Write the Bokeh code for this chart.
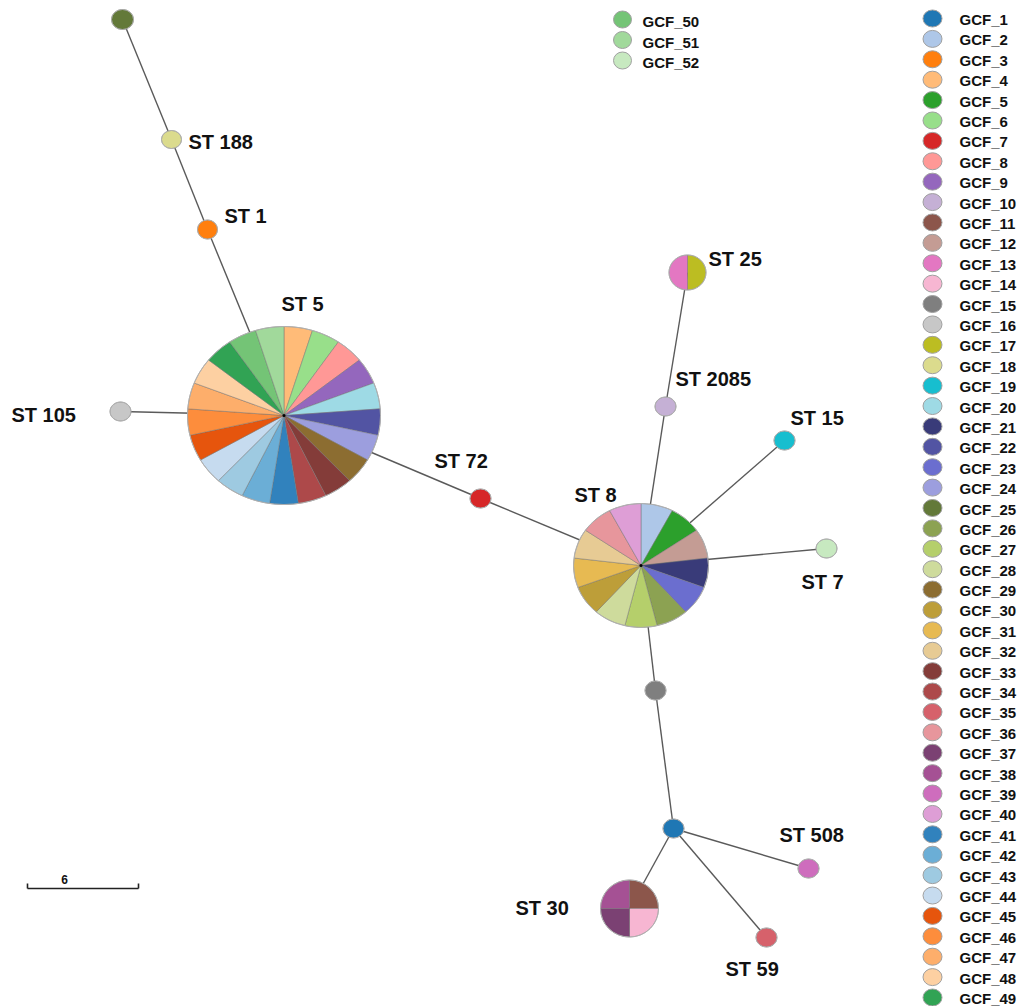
import numpy as np
from bokeh.plotting import figure
from bokeh.models import Range1d
from bokeh.core.properties import value
from bokeh.embed import file_html
from bokeh.resources import INLINE

# ---------------- data ----------------
gcf_names = [f"GCF_{i}" for i in range(1, 53)]
gcf_colors = [
    "#1f77b4", "#aec7e8", "#ff7f0e", "#ffbb78", "#2ca02c", "#98df8a", "#d62728", "#ff9896",
    "#9467bd", "#c5b0d5", "#8c564b", "#c49c94", "#e377c2", "#f7b6d2", "#7f7f7f", "#c7c7c7",
    "#bcbd22", "#dbdb8d", "#17becf", "#9edae5",
    "#393b79", "#5254a3", "#6b6ecf", "#9c9ede", "#637939", "#8ca252", "#b5cf6b", "#cedb9c",
    "#8c6d31", "#bd9e39", "#e7ba52", "#e7cb94", "#843c39", "#ad494a", "#d6616b", "#e7969c",
    "#7b4173", "#a55194", "#ce6dbd", "#de9ed6",
    "#3182bd", "#6baed6", "#9ecae1", "#c6dbef", "#e6550d", "#fd8d3c", "#fdae6b", "#fdd0a2",
    "#31a354", "#74c476", "#a1d99b", "#c7e9c0",
]

# nodes of the minimum spanning tree (layout position, size, label, members)
node_ids = ["n25", "ST188", "ST1", "ST5", "ST105", "ST72", "ST8", "ST2085", "ST25",
            "ST15", "ST7", "n15", "n1", "ST30", "ST508", "ST59"]
node_x = [122, 171, 207, 283.5, 120, 480, 640.5, 665, 687, 784, 826, 655, 673, 629, 808, 766]
node_y = [19, 139, 229, 415, 411, 498, 565, 406, 272, 440, 548, 690, 828, 908, 868, 937]
node_rx = [11, 10, 10, 96.5, 10.5, 10.5, 67.5, 10.5, 18.5, 10.5, 10.5, 10.5, 10.5, 29, 10.5, 10.5]
node_ry = [10, 9, 9.5, 89, 9.5, 9.5, 62, 9.5, 17.5, 9.5, 9.5, 9.5, 9.5, 28.5, 9.5, 9.5]
node_members = [
    [25], [18], [3],
    [4, 6, 8, 9, 20, 22, 24, 29, 33, 34, 41, 42, 43, 44, 45, 46, 47, 48, 49, 50, 51],
    [16], [7],
    [2, 5, 12, 21, 23, 26, 27, 28, 30, 31, 32, 36, 40],
    [10], [17, 13], [19], [52], [15], [1],
    [11, 14, 37, 38], [39], [35],
]

edges = [("n25", "ST188"), ("ST188", "ST1"), ("ST1", "ST5"), ("ST105", "ST5"),
         ("ST5", "ST72"), ("ST72", "ST8"), ("ST8", "ST2085"), ("ST2085", "ST25"),
         ("ST8", "ST15"), ("ST8", "ST7"), ("ST8", "n15"), ("n15", "n1"),
         ("n1", "ST30"), ("n1", "ST508"), ("n1", "ST59")]

labels = ["ST 188", "ST 1", "ST 5", "ST 105", "ST 72", "ST 8", "ST 2085", "ST 25",
          "ST 15", "ST 7", "ST 508", "ST 30", "ST 59"]
label_x = [188, 224, 281, 11, 434, 574, 675, 708, 790, 801, 779, 515, 725]
label_y = [141, 215, 303, 414, 460, 494, 378, 258, 417, 581, 834, 907, 968]

legend_main = list(range(1, 50))
legend_top = [50, 51, 52]
scale_value = "6"

# ---------------- figure ----------------
W, H = 1021, 1006
p = figure(width=W, height=H, output_backend="svg", toolbar_location=None,
           x_range=Range1d(0, W), y_range=Range1d(H, 0), min_border=0)
p.axis.visible = False
p.grid.visible = False
p.outline_line_color = None
p.background_fill_color = "white"

pos = {n: (x, y) for n, x, y in zip(node_ids, node_x, node_y)}

# edges
p.segment(x0=[pos[a][0] for a, b in edges], y0=[pos[a][1] for a, b in edges],
          x1=[pos[b][0] for a, b in edges], y1=[pos[b][1] for a, b in edges],
          line_color="#5a5a5a", line_width=1.4)

# nodes (pie slices as polygons; angles clockwise from 12 o'clock)
xs, ys, cols = [], [], []
for cx, cy, rx, ry, mem in zip(node_x, node_y, node_rx, node_ry, node_members):
    n = len(mem)
    for k, g in enumerate(mem):
        a0 = 2 * np.pi * k / n
        a1 = 2 * np.pi * (k + 1) / n
        t = np.linspace(a0, a1, max(8, int(120 / n) + 4))
        px = cx + rx * np.sin(t)
        py = cy - ry * np.cos(t)
        if n > 1:
            px = np.concatenate([[cx], px])
            py = np.concatenate([[cy], py])
        xs.append(list(px))
        ys.append(list(py))
        cols.append(gcf_colors[g - 1])

p.patches(xs=xs, ys=ys, fill_color=cols, line_color="#6f6f6f", line_alpha=0.45,
          line_width=1)
# outer outlines
p.ellipse(x=node_x, y=node_y, width=[2 * r for r in node_rx], height=[2 * r for r in node_ry],
          fill_color=None, line_color="#b0b0b0", line_width=1)
# pie centres
big = [i for i, m in enumerate(node_members) if len(m) > 4]
p.scatter(x=[node_x[i] for i in big], y=[node_y[i] for i in big], size=3,
          fill_color="black", line_color=None)

# node labels
p.text(x=label_x, y=label_y, text=labels, text_font=value("Liberation Sans"),
       text_font_style="bold", text_font_size="20px", text_color="#111111",
       text_align="left", text_baseline="middle")

# legend (right column)
ly = [18 + i * (979 / 48) for i in range(len(legend_main))]
p.ellipse(x=[932] * len(legend_main), y=ly, width=19, height=17,
          fill_color=[gcf_colors[g - 1] for g in legend_main],
          line_color="#a0a0a0", line_width=1)
p.text(x=[959] * len(legend_main), y=[v + 1 for v in ly],
       text=[gcf_names[g - 1] for g in legend_main],
       text_font=value("Liberation Sans"), text_font_style="bold", text_font_size="15px",
       text_color="#111111", text_align="left", text_baseline="middle")

# legend (top)
ty = [19 + i * 20.5 for i in range(len(legend_top))]
p.ellipse(x=[622] * len(legend_top), y=ty, width=18, height=17,
          fill_color=[gcf_colors[g - 1] for g in legend_top],
          line_color="#a0a0a0", line_width=1)
p.text(x=[642] * len(legend_top), y=[t + 2 for t in ty], text=[gcf_names[g - 1] for g in legend_top],
       text_font=value("Liberation Sans"), text_font_style="bold", text_font_size="15px",
       text_color="#111111", text_align="left", text_baseline="middle")

# scale bar
p.segment(x0=[27, 27, 138], y0=[888, 883, 883], x1=[138, 27, 138], y1=[888, 888, 888],
          line_color="#222222", line_width=1.6)
p.text(x=[64], y=[879], text=[scale_value], text_font=value("Liberation Sans"),
       text_font_style="bold", text_font_size="12px", text_color="#111111",
       text_align="center", text_baseline="middle")

open("out.html", "w").write(file_html(p, INLINE))
